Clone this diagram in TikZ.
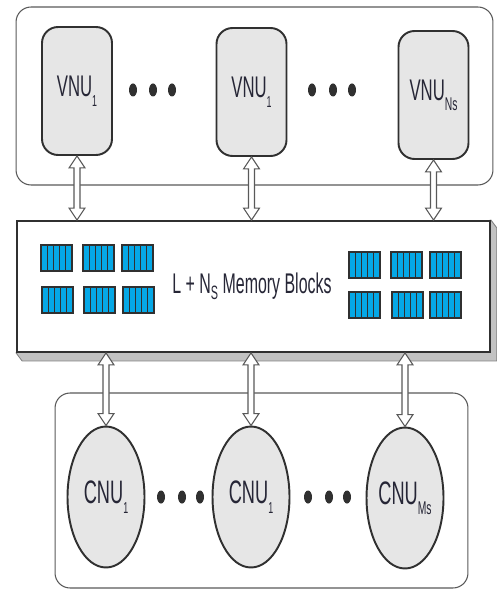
\documentclass[tikz,border=0pt]{standalone}
\usepackage{fontspec}
\newfontfamily\narrowfont{Liberation Sans}[FakeStretch=0.56]
\usetikzlibrary{calc,shapes.geometric,backgrounds}

\definecolor{cellblue}{HTML}{05A8E6}
\definecolor{unitfill}{HTML}{E6E6E6}
\definecolor{inkline}{HTML}{303030}
\definecolor{labelink}{HTML}{262636}
\definecolor{slabgray}{HTML}{C2C2C2}

% geometry of the hollow two-way arrows
\newcommand\arrHW{0.16cm}
\newcommand\arrHL{0.24cm}
\newcommand\arrSW{0.06cm}
% #1 = upper end, #2 = lower end (same x)
\newcommand\bidir[2]{%
  \path[biarrow] let \p1=(#1), \p2=(#2) in
    (\x1,\y1) -- (\x1+\arrHW,\y1-\arrHL) -- (\x1+\arrSW,\y1-\arrHL)
    -- (\x1+\arrSW,\y2+\arrHL) -- (\x1+\arrHW,\y2+\arrHL) -- (\x1,\y2)
    -- (\x1-\arrHW,\y2+\arrHL) -- (\x1-\arrSW,\y2+\arrHL)
    -- (\x1-\arrSW,\y1-\arrHL) -- (\x1-\arrHW,\y1-\arrHL) -- cycle;}
\newcommand\usub[2][9]{\raisebox{-5.5pt}{\fontsize{#1}{#1}\selectfont #2}}

\begin{document}
\begin{tikzpicture}[x=0.02cm,y=-0.02cm,
  bank/.style={draw=inkline!80, line width=0.6pt, rounded corners=0.3cm,
    inner sep=0pt},
  vnu/.style={draw=inkline, line width=1.1pt, fill=unitfill,
    rounded corners=0.32cm, minimum width=1.4cm, minimum height=2.56cm,
    inner sep=0pt, font=\narrowfont\fontsize{17}{19}\selectfont,
    text=labelink},
  cnu/.style={ellipse, draw=inkline, line width=1.1pt, fill=unitfill,
    minimum width=1.54cm, minimum height=2.82cm, inner sep=0pt,
    font=\narrowfont\fontsize{18.5}{20}\selectfont, text=labelink},
  memory/.style={draw=inkline, line width=1.1pt, fill=white,
    minimum width=9.46cm, minimum height=2.62cm, inner sep=0pt},
  biarrow/.style={draw=inkline!80, line width=0.6pt, fill=white,
    line join=miter},
  dot/.style={fill=inkline},
  memcell/.pic={
    \fill[cellblue] (0,0) rectangle (31,26);
    \foreach \k in {1,...,4}
      \draw[inkline, line width=0.7pt] (6.2*\k,0) -- (6.2*\k,26);
    \draw[inkline, line width=1pt] (0,0) rectangle (31,26);
  }]
\useasboundingbox (0,0) rectangle (496,590);

% processing-unit banks
\node[bank, minimum width=9.54cm, minimum height=3.56cm] (vbank) at (254.5,96) {};
\node[bank, minimum width=8.26cm, minimum height=3.9cm] (cbank) at (261.5,490.5) {};

% variable node units
\node[vnu] (v1) at (77,91) {VNU\usub{1}};
\node[vnu] (v2) at (251.5,92) {VNU\usub{1}};
\node[vnu] (v3) at (433.5,95) {VNU\usub[10.5]{Ns}};

\foreach \x in {133,153,172,312,333,352}
  \fill[dot] (\x,90) ellipse [x radius=4, y radius=6.5];

% check node units
\node[cnu] (c1) at (106,497) {CNU\usub{1}};
\node[cnu] (c2) at (251,497) {CNU\usub{1}};
\node[cnu] (c3) at (405,498) {CNU\usub[10.5]{Ms}};

\foreach \x in {161,182,200,308,329,347}
  \fill[dot] (\x,497) ellipse [x radius=4, y radius=6.5];

% shared memory slab with its extruded edge
\node[memory] (mem) at (253.5,286.5) {};
\begin{scope}[on background layer]
  \filldraw[fill=slabgray, draw=inkline!60, line width=0.5pt]
    (mem.south west) -- ++(6,8) -- ($(mem.south east)+(6,8)$)
    -- ($(mem.north east)+(6,8)$) -- (mem.north east) -- cycle;
\end{scope}

\foreach \p in {(41,245),(83,245),(122,245),(42,287),(84,287),(123,287),
                (349,252),(391,252),(430,252),(349,292),(392,292),(430,292)}
  \pic at \p {memcell};

\node[font=\narrowfont\fontsize{16.2}{19}\selectfont, text=labelink, inner sep=0pt]
  (memlabel) at (252,286)
  {L + N\raisebox{-3.5pt}{\fontsize{11}{11}\selectfont S} Memory Blocks};

% two-way links between units and memory
\bidir{v1.south}{v1.south |- mem.north}
\bidir{v2.south}{v2.south |- mem.north}
\bidir{v3.south}{v3.south |- mem.north}
\bidir{c1.north |- mem.south}{c1.north}
\bidir{c2.north |- mem.south}{c2.north}
\bidir{c3.north |- mem.south}{c3.north}
\end{tikzpicture}
\end{document}
